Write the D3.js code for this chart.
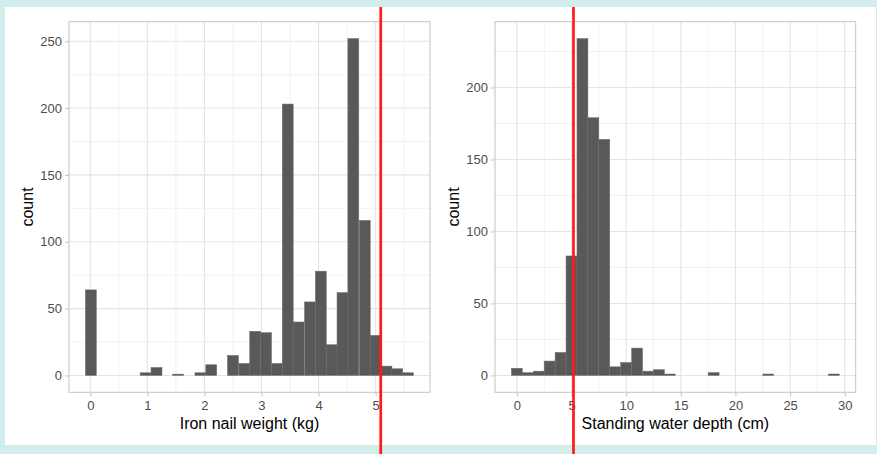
<!DOCTYPE html>
<html>
<head>
<meta charset="utf-8">
<script src="https://cdn.jsdelivr.net/npm/d3@7"></script>
<style>
  html, body { margin: 0; padding: 0; background: #d3ecec; }
  svg { display: block; }
  text { font-family: "Liberation Sans", Arial, Helvetica, sans-serif; }
</style>
</head>
<body>
<svg id="chart" width="877" height="454"></svg>
<script>
// ---------- data ----------
const nailBinMids = [0.01, 0.20, 0.39, 0.58, 0.78, 0.97, 1.16, 1.35, 1.54, 1.74,
                     1.93, 2.12, 2.31, 2.50, 2.70, 2.89, 3.08, 3.27, 3.46, 3.65,
                     3.85, 4.04, 4.23, 4.42, 4.61, 4.81, 5.00, 5.19, 5.38, 5.57];
const nailBinWidth = 0.1918;
const nailCounts = [64, 0, 0, 0, 0, 2, 6, 0, 1, 0,
                    2, 8, 0, 15, 9, 33, 32, 9, 203, 40,
                    55, 78, 23, 62, 252, 116, 30, 7, 5, 2];
const nailXTicks = [0, 1, 2, 3, 4, 5];
const nailYTicks = [0, 50, 100, 150, 200, 250];
const nailMarker = 5.09;

const waterBinMids = [0, 1, 2, 3, 4, 5, 6, 7, 8, 9,
                      10, 11, 12, 13, 14, 15, 16, 17, 18, 19,
                      20, 21, 22, 23, 24, 25, 26, 27, 28, 29];
const waterBinWidth = 1.0;
const waterCounts = [5, 2, 3, 10, 16, 83, 234, 179, 164, 6,
                     9, 19, 3, 4, 1, 0, 0, 0, 2, 0,
                     0, 0, 0, 1, 0, 0, 0, 0, 0, 1];
const waterXTicks = [0, 5, 10, 15, 20, 25, 30];
const waterYTicks = [0, 50, 100, 150, 200];
const waterMarker = 5.18;

const xTitles = ["Iron nail weight (kg)", "Standing water depth (cm)"];
const yTitle = "count";

// ---------- drawing ----------
const svg = d3.select("#chart");
svg.append("rect").attr("x", 0).attr("y", 0).attr("width", 877).attr("height", 454).attr("fill", "#d3ecec");
svg.append("rect").attr("x", 5).attr("y", 7).attr("width", 871).attr("height", 438).attr("fill", "#ffffff");

function midpoints(t) {
  const out = [];
  for (let i = 0; i < t.length - 1; i++) out.push((t[i] + t[i + 1]) / 2);
  return out;
}

function histogram(opts) {
  const { mids, width, counts, xTicks, yTicks, left, right, top, bottom, xTitle, yTitleX, marker } = opts;
  const lo = mids[0] - width / 2, hi = mids[mids.length - 1] + width / 2;
  const ex = (hi - lo) * 0.05;
  const x = d3.scaleLinear().domain([lo - ex, hi + ex]).range([left, right]);
  const ymax = d3.max(counts);
  const y = d3.scaleLinear().domain([-ymax * 0.05, ymax * 1.05]).range([bottom, top]);

  const g = svg.append("g");
  // minor grid
  const xMinor = midpoints(xTicks).concat([xTicks[xTicks.length - 1] + (xTicks[1] - xTicks[0]) / 2])
    .filter(v => x(v) > left && x(v) < right);
  const yMinor = midpoints(yTicks).concat([yTicks[yTicks.length - 1] + (yTicks[1] - yTicks[0]) / 2])
    .filter(v => y(v) > top && y(v) < bottom);
  g.selectAll(".xminor").data(xMinor).join("line")
    .attr("x1", d => x(d)).attr("x2", d => x(d)).attr("y1", top).attr("y2", bottom)
    .attr("stroke", "#efefef").attr("stroke-width", 0.8);
  g.selectAll(".yminor").data(yMinor).join("line")
    .attr("y1", d => y(d)).attr("y2", d => y(d)).attr("x1", left).attr("x2", right)
    .attr("stroke", "#efefef").attr("stroke-width", 0.8);
  // major grid
  g.selectAll(".xmajor").data(xTicks).join("line")
    .attr("x1", d => x(d)).attr("x2", d => x(d)).attr("y1", top).attr("y2", bottom)
    .attr("stroke", "#e4e4e4").attr("stroke-width", 1.1);
  g.selectAll(".ymajor").data(yTicks).join("line")
    .attr("y1", d => y(d)).attr("y2", d => y(d)).attr("x1", left).attr("x2", right)
    .attr("stroke", "#e4e4e4").attr("stroke-width", 1.1);

  // bars
  const bins = mids.map((m, i) => ({ m, c: counts[i] })).filter(d => d.c > 0);
  g.selectAll(".bar").data(bins).join("rect")
    .attr("x", d => x(d.m - width / 2))
    .attr("width", d => x(d.m + width / 2) - x(d.m - width / 2))
    .attr("y", d => y(d.c))
    .attr("height", d => y(0) - y(d.c))
    .attr("fill", "#595959")
    .attr("stroke", "#6e6e6e")
    .attr("stroke-width", 0.5);

  // panel border
  g.append("rect").attr("x", left).attr("y", top).attr("width", right - left).attr("height", bottom - top)
    .attr("fill", "none").attr("stroke", "#c4c4c4").attr("stroke-width", 1);

  // axes
  const xAxis = d3.axisBottom(x).tickValues(xTicks).tickSize(4).tickPadding(4).tickFormat(d3.format("d"));
  const yAxis = d3.axisLeft(y).tickValues(yTicks).tickSize(4).tickPadding(3).tickFormat(d3.format("d"));
  const gx = g.append("g").attr("transform", `translate(0,${bottom})`).call(xAxis);
  const gy = g.append("g").attr("transform", `translate(${left},0)`).call(yAxis);
  [gx, gy].forEach(a => {
    a.select(".domain").remove();
    a.selectAll(".tick line").attr("stroke", "#c4c4c4");
    a.selectAll(".tick text").attr("fill", "#4d4d4d").style("font-size", "13px")
      .style("font-family", '"Liberation Sans", Arial, Helvetica, sans-serif');
  });

  // titles
  g.append("text").attr("x", (left + right) / 2).attr("y", 428.5).attr("text-anchor", "middle")
    .style("font-size", "16px").attr("fill", "#000").text(xTitle);
  g.append("text").attr("transform", `translate(${yTitleX},${(top + bottom) / 2}) rotate(-90)`)
    .attr("text-anchor", "middle").style("font-size", "16px").attr("fill", "#000").text(yTitle);

  return { x, marker };
}

const p1 = histogram({ mids: nailBinMids, width: nailBinWidth, counts: nailCounts, xTicks: nailXTicks, yTicks: nailYTicks,
  left: 69, right: 430, top: 21.7, bottom: 392.3, xTitle: xTitles[0], yTitleX: 33.3, marker: nailMarker });
const p2 = histogram({ mids: waterBinMids, width: waterBinWidth, counts: waterCounts, xTicks: waterXTicks, yTicks: waterYTicks,
  left: 495, right: 855.7, top: 21.7, bottom: 392.3, xTitle: xTitles[1], yTitleX: 459, marker: waterMarker });

// red marker lines (overlay)
[p1, p2].forEach(p => {
  svg.append("line").attr("x1", p.x(p.marker)).attr("x2", p.x(p.marker)).attr("y1", 7).attr("y2", 454)
    .attr("stroke", "#ff1a1a").attr("stroke-width", 2.7);
});
</script>
</body>
</html>
